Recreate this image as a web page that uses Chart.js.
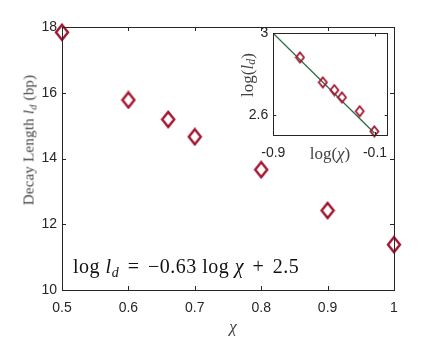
<!DOCTYPE html>
<html><head><meta charset="utf-8">
<script src="https://cdn.jsdelivr.net/npm/chart.js@4.4.0/dist/chart.umd.min.js"></script>
<style>
html,body{margin:0;padding:0;background:#fff;}
#wrap{position:relative;width:436px;height:354px;overflow:hidden;background:#fff;}
canvas{position:absolute;}
.t{position:absolute;font-family:"Liberation Serif","DejaVu Serif",serif;color:#444;white-space:nowrap;line-height:1;}
.t sub{font-size:70%;vertical-align:-0.25em;line-height:0;}
.op{margin:0 3px;}
</style></head><body>
<div id="wrap">
<canvas id="main" width="436" height="354" style="left:0;top:0;"></canvas>
<canvas id="inset" width="170" height="150" style="left:230px;top:20px;"></canvas>
<div class="t" id="ylab" style="left:29px;top:140px;font-size:15px;letter-spacing:0.2px;transform:translate(-50%,-50%) rotate(-90deg);">Decay Length <i>l</i><sub><i>d</i></sub> (bp)</div>
<div class="t" id="xlab" style="left:233px;top:326px;font-size:17px;transform:translate(-50%,-50%);"><i>χ</i></div>
<div class="t" id="ann" style="left:73px;top:256px;font-size:20px;color:#111;letter-spacing:0.5px;">log <i>l</i><sub><i>d</i></sub> <span class="op">=</span> −0.63 log <i>χ</i> <span class="op">+</span> 2.5</div>
<div class="t" id="iylab" style="left:247px;top:75px;font-size:17px;transform:translate(-50%,-50%) rotate(-90deg);">log(<i>l</i><sub><i>d</i></sub>)</div>
<div class="t" id="ixlab" style="left:330px;top:153px;font-size:17px;transform:translate(-50%,-50%);">log(<i>χ</i>)</div>
</div>
<script>
// ---- data ----
const chi = [0.5, 0.6, 0.66, 0.7, 0.8, 0.9, 1.0];
const decayLength = [17.84, 15.78, 15.19, 14.66, 13.66, 12.42, 11.38];
const xTickValues = [0.5, 0.6, 0.7, 0.8, 0.9, 1.0];
const xTickLabels = ['0.5', '0.6', '0.7', '0.8', '0.9', '1'];
const yTickValues = [10, 12, 14, 16, 18];
const yTickLabels = ['10', '12', '14', '16', '18'];

const logChi = [-0.69, -0.51, -0.42, -0.36, -0.22, -0.105];
const logLd = [2.882, 2.759, 2.721, 2.685, 2.617, 2.518];
const fitX = [-0.9, -0.105];
const fitY = [3.0, 2.51];
const insetXTickValues = [-0.9, -0.1];
const insetXTickLabels = ['-0.9', '-0.1'];
const insetYTickValues = [2.6, 3.0];
const insetYTickLabels = ['2.6', '3'];

const AX = '#262626';
const MARK = '#A2142F';
const FIT = '#2b6a4b';

function diamond(w, h, lw) {
  const c = document.createElement('canvas');
  c.width = w + lw * 2; c.height = h + lw * 2;
  const g = c.getContext('2d');
  const cx = c.width / 2, cy = c.height / 2;
  g.strokeStyle = MARK; g.lineWidth = lw; g.lineJoin = 'miter';
  g.beginPath();
  g.moveTo(cx, cy - h / 2); g.lineTo(cx + w / 2, cy);
  g.lineTo(cx, cy + h / 2); g.lineTo(cx - w / 2, cy); g.closePath();
  g.stroke();
  return c;
}

function boxTicks(len, bg) {
  return {
    id: 'boxTicks',
    beforeDraw(chart) {
      if (!bg) return;
      const a = chart.chartArea, ctx = chart.ctx;
      ctx.save(); ctx.fillStyle = '#fff';
      ctx.fillRect(a.left, a.top, a.right - a.left, a.bottom - a.top);
      ctx.restore();
    },
    afterDatasetsDraw(chart) {
      const a = chart.chartArea, ctx = chart.ctx;
      const xs = chart.scales.x, ys = chart.scales.y;
      ctx.save();
      ctx.strokeStyle = AX; ctx.lineWidth = 1;
      ctx.beginPath();
      xs.ticks.forEach(t => {
        const p = Math.round(xs.getPixelForValue(t.value)) + 0.5;
        ctx.moveTo(p, a.bottom); ctx.lineTo(p, a.bottom - len);
        ctx.moveTo(p, a.top); ctx.lineTo(p, a.top + len);
      });
      ys.ticks.forEach(t => {
        const p = Math.round(ys.getPixelForValue(t.value)) + 0.5;
        ctx.moveTo(a.left, p); ctx.lineTo(a.left + len, p);
        ctx.moveTo(a.right, p); ctx.lineTo(a.right - len, p);
      });
      ctx.stroke();
      ctx.strokeRect(Math.round(a.left) + 0.5, Math.round(a.top) + 0.5,
        Math.round(a.right - a.left), Math.round(a.bottom - a.top));
      ctx.restore();
    }
  };
}

function axis(min, max, vals, labels, fit, pad, isX) {
  return {
    type: 'linear', min: min, max: max,
    grid: { display: false, drawTicks: false },
    border: { display: false },
    afterBuildTicks: s => { s.ticks = vals.map(v => ({ value: v })); },
    afterFit: s => { if (isX) s.height = fit; else s.width = fit; },
    ticks: {
      color: AX, padding: pad,
      font: { family: '"Liberation Sans", Arial, sans-serif', size: 14 },
      callback: (v) => { const i = vals.findIndex(t => Math.abs(t - v) < 1e-9); return i >= 0 ? labels[i] : ''; }
    }
  };
}

new Chart(document.getElementById('main'), {
  type: 'scatter',
  data: {
    datasets: [{
      data: chi.map((x, i) => ({ x: x, y: decayLength[i] })),
      pointStyle: diamond(12, 15, 2.4), pointRadius: 8, clip: false
    }]
  },
  options: {
    responsive: false, animation: false,
    layout: { padding: { left: 0, top: 27, right: 42, bottom: 0 } },
    plugins: { legend: { display: false }, tooltip: { enabled: false } },
    scales: {
      x: axis(0.5, 1.0, xTickValues, xTickLabels, 64, 10, true),
      y: axis(10, 18, yTickValues, yTickLabels, 62, 5, false)
    }
  },
  plugins: [boxTicks(4, false)]
});

new Chart(document.getElementById('inset'), {
  type: 'scatter',
  data: {
    datasets: [
      { data: logChi.map((x, i) => ({ x: x, y: logLd[i] })),
        pointStyle: diamond(8, 10, 1.8), pointRadius: 6, clip: false, order: 0 },
      { type: 'line', data: fitX.map((x, i) => ({ x: x, y: fitY[i] })),
        borderColor: FIT, borderWidth: 1.3, pointRadius: 0, fill: false, order: 1 }
    ]
  },
  options: {
    responsive: false, animation: false,
    layout: { padding: { left: 0, top: 13.3, right: 12.3, bottom: 0 } },
    plugins: { legend: { display: false }, tooltip: { enabled: false } },
    scales: {
      x: axis(-0.9, 0.0, insetXTickValues, insetXTickLabels, 35, 10, true),
      y: axis(2.5, 3.0, insetYTickValues, insetYTickLabels, 43.3, 5, false)
    }
  },
  plugins: [boxTicks(3, true)]
});
</script>
</body></html>
